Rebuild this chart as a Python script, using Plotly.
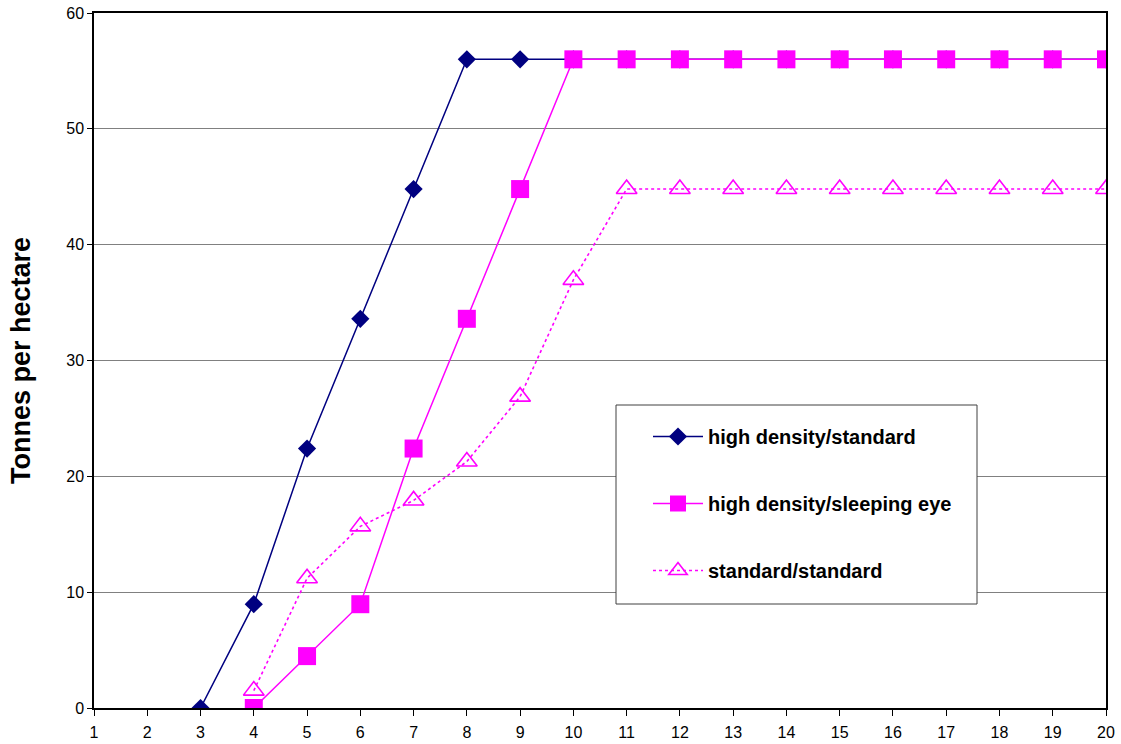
import plotly.graph_objects as go

# Years after planting
years = list(range(1, 21))

# Yield (tonnes per hectare) for each planting system
hd_standard_x = list(range(3, 21))
hd_standard_y = [0, 8.96, 22.4, 33.6, 44.8, 56, 56, 56, 56, 56, 56, 56, 56, 56, 56, 56, 56, 56]

hd_sleeping_x = list(range(4, 21))
hd_sleeping_y = [0, 4.48, 8.96, 22.4, 33.6, 44.8, 56, 56, 56, 56, 56, 56, 56, 56, 56, 56, 56]

std_standard_x = list(range(4, 21))
std_standard_y = [1.5, 11.2, 15.68, 17.92, 21.28, 26.88, 36.96, 44.8, 44.8, 44.8, 44.8,
                  44.8, 44.8, 44.8, 44.8, 44.8, 44.8]

y_ticks = [0, 10, 20, 30, 40, 50, 60]

NAVY = "#000080"
MAGENTA = "#FF00FF"
FONT = "Liberation Sans, Arial, sans-serif"

fig = go.Figure()

fig.add_trace(go.Scatter(
    x=hd_standard_x, y=hd_standard_y, mode="lines+markers",
    name="high density/standard", legendgroup="a", legendrank=1,
    line=dict(color=NAVY, width=1.5),
    marker=dict(symbol="diamond", size=14, color=NAVY),
))
fig.add_trace(go.Scatter(
    x=std_standard_x, y=std_standard_y, mode="lines+markers",
    name="standard/standard", legendgroup="c", legendrank=3,
    line=dict(color=MAGENTA, width=1.6, dash="dot"),
    marker=dict(symbol="triangle-up-open", size=18, color=MAGENTA,
                line=dict(width=1.6, color=MAGENTA)),
))
fig.add_trace(go.Scatter(
    x=hd_sleeping_x, y=hd_sleeping_y, mode="lines+markers",
    name="high density/sleeping eye", legendgroup="b", legendrank=2,
    line=dict(color=MAGENTA, width=1.5),
    marker=dict(symbol="square", size=18, color=MAGENTA),
))

# Legend frame with white fill to break the gridlines behind it
fig.add_shape(
    type="rect", xref="paper", yref="paper",
    x0=(616 - 94) / 1012, x1=(977 - 94) / 1012,
    y0=(708 - 604) / 695, y1=(708 - 405) / 695,
    line=dict(color="#404040", width=1), fillcolor="white", layer="above",
)

fig.update_layout(
    width=1121, height=744,
    margin=dict(l=94, r=15, t=13, b=36),
    plot_bgcolor="white", paper_bgcolor="white",
    font=dict(family=FONT, color="black", size=16),
    showlegend=True,
    legend=dict(
        x=(648 - 94) / 1012, y=(708 - 417) / 695, xanchor="left", yanchor="top",
        bgcolor="rgba(0,0,0,0)", borderwidth=0,
        font=dict(size=20, family=FONT, weight="bold"),
        traceorder="grouped", tracegroupgap=38,
        itemwidth=50,
    ),
    xaxis=dict(
        range=[1, 20], tickmode="array", tickvals=years,
        showgrid=False, zeroline=False, automargin=False,
        showline=True, linecolor="black", linewidth=1.5, mirror=True,
        ticks="outside", ticklen=6, tickcolor="black",
        tickfont=dict(size=16), ticklabelstandoff=3,
    ),
    yaxis=dict(
        range=[0, 60], tickmode="array", tickvals=y_ticks,
        showgrid=True, gridcolor="#808080", gridwidth=1, zeroline=False,
        automargin=False,
        showline=True, linecolor="black", linewidth=1.5, mirror=True,
        ticks="outside", ticklen=5, tickcolor="black",
        tickfont=dict(size=16),
        title=dict(text="Tonnes per hectare", standoff=28,
                   font=dict(size=27, weight="bold")),
    ),
)

fig.write_html("out.html")
